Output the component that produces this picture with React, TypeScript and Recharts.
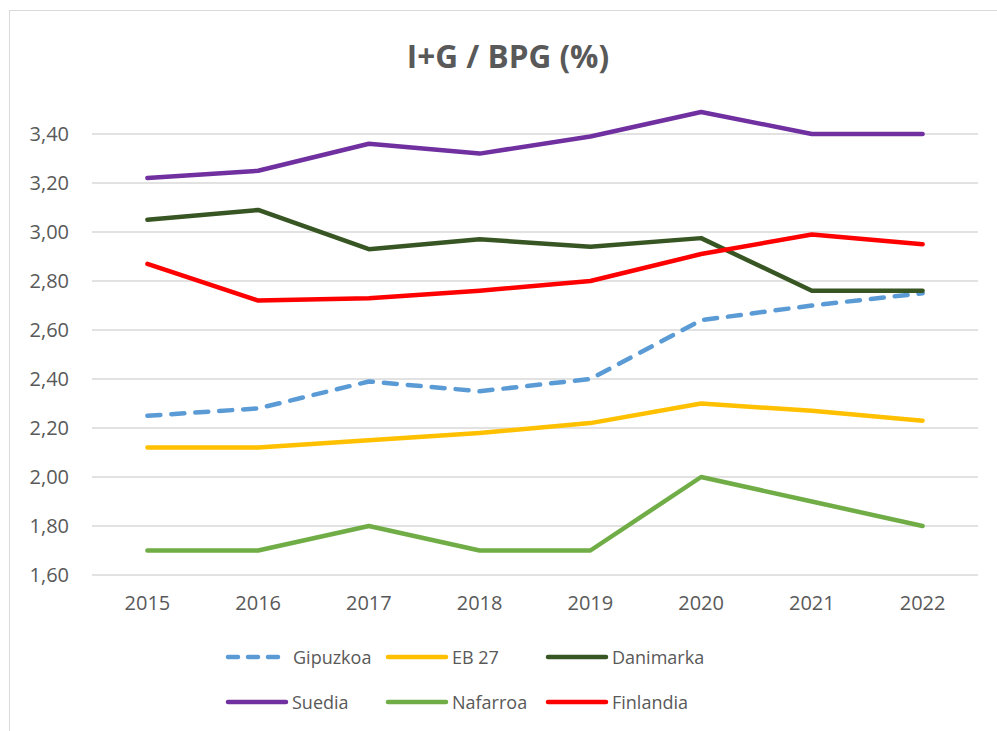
import React from 'react';
import { LineChart, Line, XAxis, YAxis, CartesianGrid, Legend } from 'recharts';

const years = ['2015', '2016', '2017', '2018', '2019', '2020', '2021', '2022'];
const gipuzkoa = [2.25, 2.28, 2.39, 2.35, 2.4, 2.64, 2.7, 2.75];
const eb27 = [2.12, 2.12, 2.15, 2.18, 2.22, 2.3, 2.27, 2.23];
const danimarka = [3.05, 3.09, 2.93, 2.97, 2.94, 2.975, 2.76, 2.76];
const suedia = [3.22, 3.25, 3.36, 3.32, 3.39, 3.49, 3.4, 3.4];
const nafarroa = [1.7, 1.7, 1.8, 1.7, 1.7, 2.0, 1.9, 1.8];
const finlandia = [2.87, 2.72, 2.73, 2.76, 2.8, 2.91, 2.99, 2.95];
const yTicks = [1.6, 1.8, 2.0, 2.2, 2.4, 2.6, 2.8, 3.0, 3.2, 3.4];

const series = [
  { key: 'Gipuzkoa', values: gipuzkoa, color: '#5B9BD5', dash: '13 11' },
  { key: 'EB 27', values: eb27, color: '#FFC000' },
  { key: 'Danimarka', values: danimarka, color: '#375623' },
  { key: 'Suedia', values: suedia, color: '#7030A0' },
  { key: 'Nafarroa', values: nafarroa, color: '#70AD47' },
  { key: 'Finlandia', values: finlandia, color: '#FF0000' },
];

const data = years.map((year, i) => {
  const row: Record<string, string | number> = { year };
  series.forEach((s) => {
    row[s.key] = s.values[i];
  });
  return row;
});

const FONT = '"Open Sans", "Noto Sans", sans-serif';
const TEXT = '#595959';

const LegendContent = () => (
  <div style={{ position: 'relative', width: 997, height: 70 }}>
    {series.map((s, i) => {
      const col = i % 3;
      const row = Math.floor(i / 3);
      const isDash = !!s.dash;
      return (
        <div
          key={s.key}
          style={{
            position: 'absolute',
            left: 225 + col * 160,
            top: row * 45,
            height: 24,
            display: 'flex',
            alignItems: 'center',
            fontFamily: FONT,
            fontSize: 18,
            color: TEXT,
            whiteSpace: 'nowrap',
          }}
        >
          <svg width={isDash ? 66 : 64} height={10} style={{ display: 'block' }}>
            <line
              x1={3}
              y1={5}
              x2={isDash ? 57 : 61}
              y2={5}
              stroke={s.color}
              strokeWidth={4.5}
              strokeLinecap="round"
              strokeDasharray={isDash ? '10 10' : undefined}
            />
          </svg>
          <span style={{ marginLeft: isDash ? 2 : 3 }}>{s.key}</span>
        </div>
      );
    })}
  </div>
);

export default function App() {
  return (
    <div
      style={{
        position: 'fixed',
        left: 0,
        top: 0,
        width: 997,
        height: 731,
        overflow: 'hidden',
        background: '#fff',
      }}
    >
      <div
        style={{
          position: 'absolute',
          left: 9,
          top: 10,
          width: 1100,
          height: 900,
          border: '1px solid #D9D9D9',
        }}
      />
      <div
        style={{
          position: 'absolute',
          left: 0,
          top: 35,
          width: 1016,
          textAlign: 'center',
          fontFamily: FONT,
          fontWeight: 700,
          fontSize: 31.5,
          color: TEXT,
          lineHeight: '42px',
        }}
      >
        I+G / BPG (%)
      </div>
      <div style={{ position: 'absolute', left: 0, top: 0 }}>
        <LineChart
          width={997}
          height={731}
          data={data}
          margin={{ top: 109.5, right: 19, left: 0, bottom: 126 }}
        >
          <CartesianGrid
            vertical={false}
            stroke="#D9D9D9"
            strokeWidth={1.3}
            horizontalValues={yTicks}
          />
          <XAxis
            dataKey="year"
            axisLine={false}
            tickLine={false}
            tickSize={0}
            tickMargin={21}
            height={30}
            interval={0}
            padding={{ left: 55.4, right: 55.4 }}
            tick={{ fill: TEXT, fontSize: 20, fontFamily: FONT }}
          />
          <YAxis
            domain={[1.6, 3.5]}
            ticks={yTicks}
            axisLine={false}
            tickLine={false}
            tickSize={0}
            tickMargin={23}
            width={92}
            interval={0}
            tickFormatter={(v: number) => v.toFixed(2).replace('.', ',')}
            tick={{ fill: TEXT, fontSize: 20, fontFamily: FONT }}
          />
          {series.map((s) => (
            <Line
              key={s.key}
              type="linear"
              dataKey={s.key}
              stroke={s.color}
              strokeWidth={4.5}
              strokeDasharray={s.dash}
              strokeLinecap="round"
              strokeLinejoin="round"
              dot={false}
              activeDot={false}
              isAnimationActive={false}
            />
          ))}
          <Legend
            verticalAlign="middle"
            align="center"
            layout="horizontal"
            content={<LegendContent />}
            wrapperStyle={{ left: 0, top: 645, width: 997, height: 70 }}
          />
        </LineChart>
      </div>
    </div>
  );
}
